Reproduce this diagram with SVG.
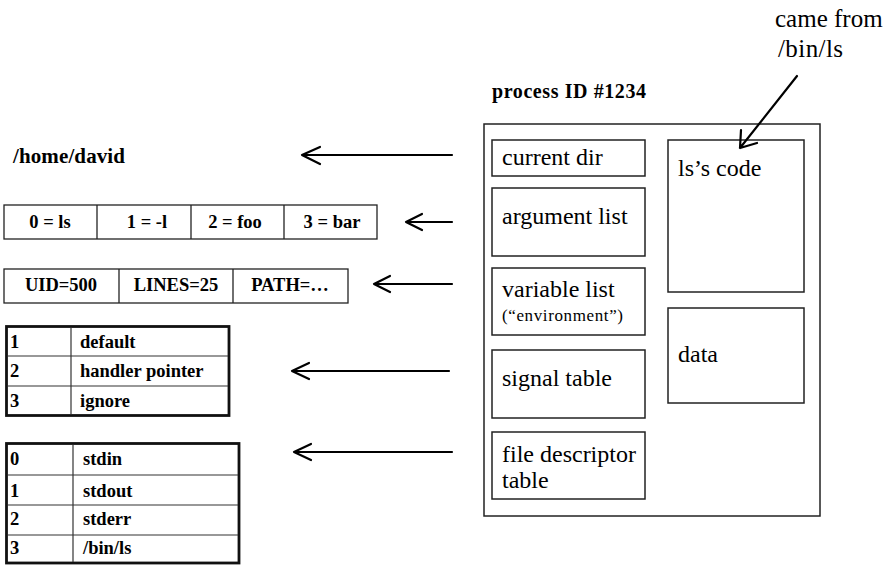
<svg xmlns="http://www.w3.org/2000/svg" width="893" height="567" viewBox="0 0 893 567">
<style>
text{font-family:"Liberation Serif","Times New Roman",serif;fill:#000}
.big{font-size:24px}
.sm{font-size:17px}
.b{font-weight:bold;font-size:18.5px}
.box{fill:none;stroke:#222;stroke-width:1.5}
.cell{fill:none;stroke:#222;stroke-width:1.3}
.tbl{fill:none;stroke:#111;stroke-width:2.8}
.in{stroke:#333;stroke-width:1.2}
.arr{fill:none;stroke:#000;stroke-width:2.2;stroke-linecap:round;stroke-linejoin:round}
.mid{text-anchor:middle}
</style>
<rect width="893" height="567" fill="#fff"/>

<g id="process">
<text x="492" y="98" font-weight="bold" font-size="20" textLength="154">process ID #1234</text>
<rect class="box" x="484" y="124" width="336" height="392"/>
</g>
<g id="current-dir">
<rect class="box" x="492" y="140" width="153" height="36"/>
<text class="big" x="502" y="165">current dir</text>
</g>
<g id="argument-list">
<rect class="box" x="492" y="188" width="153" height="68"/>
<text class="big" x="502" y="224">argument list</text>
</g>
<g id="variable-list">
<rect class="box" x="492" y="268" width="153" height="67"/>
<text class="big" x="502" y="297">variable list</text>
<text class="sm" x="502" y="321" textLength="121">(“environment”)</text>
</g>
<g id="signal-table">
<rect class="box" x="492" y="350" width="153" height="68"/>
<text class="big" x="502" y="386">signal table</text>
</g>
<g id="fd-table">
<rect class="box" x="492" y="432" width="153" height="67"/>
<text class="big" x="502" y="462">file descriptor</text>
<text class="big" x="502" y="488">table</text>
</g>
<g id="code">
<rect class="box" x="668" y="140" width="136" height="152"/>
<text class="big" x="678" y="176">ls’s code</text>
</g>
<g id="data">
<rect class="box" x="668" y="308" width="136" height="95"/>
<text class="big" x="678" y="362">data</text>
</g>
<g id="came-from">
<text x="775" y="27" font-size="25">came from</text>
<text x="778" y="57" font-size="25" textLength="65">/bin/ls</text>
</g>

<g id="home">
<text x="13" y="163" font-weight="bold" font-size="21" textLength="112">/home/david</text>
</g>

<g id="args">
<rect class="cell" x="4" y="205" width="373" height="34"/>
<line class="cell" x1="97" y1="205" x2="97" y2="239"/>
<line class="cell" x1="191" y1="205" x2="191" y2="239"/>
<line class="cell" x1="284" y1="205" x2="284" y2="239"/>
<text class="b mid" x="50" y="228">0 = ls</text>
<text class="b mid" x="147" y="228">1 = -l</text>
<text class="b mid" x="235" y="228">2 = foo</text>
<text class="b mid" x="332" y="228">3 = bar</text>
</g>

<g id="env">
<rect class="cell" x="4" y="269" width="344" height="34"/>
<line class="cell" x1="119" y1="269" x2="119" y2="303"/>
<line class="cell" x1="233" y1="269" x2="233" y2="303"/>
<text class="b mid" x="61" y="291">UID=500</text>
<text class="b mid" x="176" y="291">LINES=25</text>
<text class="b mid" x="290" y="291">PATH=…</text>
</g>

<g id="signals">
<rect class="tbl" x="6.5" y="326.5" width="222.5" height="89"/>
<line class="in" x1="8" y1="356" x2="228" y2="356"/>
<line class="in" x1="8" y1="386" x2="228" y2="386"/>
<line class="in" x1="71" y1="328" x2="71" y2="414"/>
<text class="b" x="10" y="348">1</text>
<text class="b" x="80" y="348">default</text>
<text class="b" x="10" y="377">2</text>
<text class="b" x="80" y="377">handler pointer</text>
<text class="b" x="10" y="407">3</text>
<text class="b" x="80" y="407">ignore</text>
</g>

<g id="fds">
<rect class="tbl" x="6.5" y="443.5" width="232.5" height="119.5"/>
<line class="in" x1="8" y1="475" x2="238" y2="475"/>
<line class="in" x1="8" y1="505" x2="238" y2="505"/>
<line class="in" x1="8" y1="535" x2="238" y2="535"/>
<line class="in" x1="73" y1="445" x2="73" y2="562"/>
<text class="b" x="10" y="465">0</text>
<text class="b" x="83" y="465">stdin</text>
<text class="b" x="10" y="497">1</text>
<text class="b" x="83" y="497">stdout</text>
<text class="b" x="10" y="525">2</text>
<text class="b" x="83" y="525">stderr</text>
<text class="b" x="10" y="554">3</text>
<text class="b" x="83" y="554">/bin/ls</text>
</g>

<g id="connectors">
<path class="arr" d="M452 155H302M320 147L302 155L320 164"/>
<path class="arr" d="M452 222H406M422 214L406 222L422 230"/>
<path class="arr" d="M452 284H374M390 276L374 284L390 292"/>
<path class="arr" d="M449 371H292M309 363L292 371L309 379"/>
<path class="arr" d="M452 452H294M311 444L294 452L311 460"/>
<path class="arr" d="M797 76L740 148M741 130L740 148L757 143"/>
</g>
</svg>
